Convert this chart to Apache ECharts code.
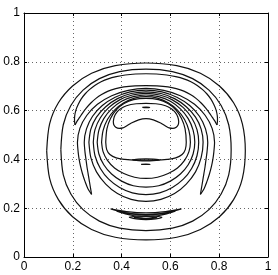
<!DOCTYPE html>
<html><head><meta charset="utf-8">
<script src="https://cdn.jsdelivr.net/npm/echarts@6/dist/echarts.min.js"></script>
<style>html,body{margin:0;padding:0;background:#fff}#c{width:278px;height:275px}</style>
</head><body><div id="c"></div>
<script>
// tick values
const xTicks = [0, 0.2, 0.4, 0.6, 0.8, 1];
const yTicks = [0, 0.2, 0.4, 0.6, 0.8, 1];

// contour lines, [x, y] points
const ring1 = [[.093,.435],[.105,.546],[.141,.632],[.199,.701],[.277,.753],[.374,.784],[.5,.795],[.626,.784],[.723,.753],[.801,.701],[.859,.632],[.895,.546],[.907,.435],[.895,.322],[.859,.235],[.801,.165],[.723,.113],[.626,.081],[.5,.07],[.374,.081],[.277,.113],[.199,.165],[.141,.235],[.105,.322],[.093,.435]];
const ring2 = [[.151,.44],[.161,.542],[.192,.621],[.242,.684],[.309,.731],[.392,.76],[.5,.77],[.608,.76],[.691,.731],[.758,.684],[.808,.621],[.839,.542],[.849,.44],[.839,.337],[.808,.258],[.758,.194],[.691,.147],[.608,.118],[.5,.108],[.392,.118],[.309,.147],[.242,.194],[.192,.258],[.161,.337],[.151,.44]];
const crescentBOuter = [[.209,.541],[.207,.56],[.208,.58],[.213,.603],[.222,.625],[.234,.647],[.25,.668],[.268,.686],[.29,.703],[.316,.718],[.345,.73],[.378,.739],[.415,.746],[.457,.75],[.5,.751],[.543,.75],[.585,.746],[.622,.739],[.655,.73],[.684,.718],[.71,.703],[.732,.686],[.75,.668],[.766,.647],[.778,.625],[.787,.603],[.792,.58],[.793,.56],[.791,.541]];
const crescentBInner = [[.209,.541],[.217,.556],[.228,.572],[.24,.59],[.255,.61],[.274,.631],[.295,.65],[.318,.666],[.345,.68],[.376,.69],[.41,.697],[.455,.701],[.5,.702],[.545,.701],[.59,.697],[.624,.69],[.655,.68],[.682,.666],[.705,.65],[.726,.631],[.745,.61],[.76,.59],[.772,.572],[.783,.556],[.791,.541]];
const crescentAOuter = [[.277,.257],[.262,.28],[.25,.31],[.24,.34],[.232,.37],[.226,.4],[.222,.43],[.219,.47],[.229,.527],[.257,.58],[.301,.626],[.3595,.661],[.427,.683],[.5,.691],[.573,.683],[.6405,.661],[.699,.626],[.743,.58],[.771,.527],[.781,.47],[.778,.43],[.774,.4],[.768,.37],[.76,.34],[.75,.31],[.738,.28],[.723,.257]];
const crescentAInner = [[.277,.257],[.273,.28],[.268,.31],[.263,.34],[.258,.37],[.254,.4],[.25,.43],[.247,.47],[.256,.525],[.281,.577],[.321,.621],[.3735,.655],[.4345,.677],[.5,.684],[.5655,.677],[.6265,.655],[.679,.621],[.719,.577],[.744,.525],[.753,.47],[.75,.43],[.746,.4],[.742,.37],[.737,.34],[.732,.31],[.727,.28],[.723,.257]];
const ring3 = [[.266,.47],[.274,.524],[.297,.5735],[.335,.616],[.383,.649],[.439,.67],[.5,.677],[.561,.67],[.617,.649],[.665,.616],[.703,.5735],[.726,.524],[.734,.47],[.726,.407],[.703,.349],[.665,.299],[.617,.26],[.561,.236],[.5,.228],[.439,.236],[.383,.26],[.335,.299],[.297,.349],[.274,.407],[.266,.47]];
const ring4 = [[.284,.47],[.291,.522],[.313,.5705],[.347,.612],[.392,.644],[.444,.664],[.5,.671],[.556,.664],[.608,.644],[.653,.612],[.687,.5705],[.709,.522],[.716,.47],[.709,.415],[.687,.363],[.653,.319],[.608,.285],[.556,.263],[.5,.256],[.444,.263],[.392,.285],[.347,.319],[.313,.363],[.291,.415],[.284,.47]];
const ring5 = [[.3,.47],[.307,.52],[.327,.567],[.359,.607],[.4,.638],[.448,.657],[.5,.664],[.552,.657],[.6,.638],[.641,.607],[.673,.567],[.693,.52],[.7,.47],[.693,.422],[.673,.378],[.641,.34],[.6,.311],[.552,.292],[.5,.286],[.448,.292],[.4,.311],[.359,.34],[.327,.378],[.307,.422],[.3,.47]];
const ring6 = [[.318,.47],[.324,.518],[.342,.5635],[.371,.602],[.409,.632],[.453,.651],[.5,.657],[.547,.651],[.591,.632],[.629,.602],[.658,.5635],[.676,.518],[.682,.47],[.676,.432],[.658,.396],[.629,.365],[.591,.342],[.547,.327],[.5,.322],[.453,.327],[.409,.342],[.371,.365],[.342,.396],[.324,.432],[.318,.47]];
const oval = [[.335,.47],[.34,.526],[.3545,.568],[.378,.603],[.41,.629],[.449,.645],[.5,.65],[.551,.645],[.59,.629],[.622,.603],[.6455,.568],[.66,.526],[.665,.47],[.661,.44],[.648,.42],[.622,.406],[.587,.4],[.546,.397],[.5,.397],[.454,.397],[.413,.4],[.378,.406],[.352,.42],[.339,.44],[.335,.47]];
const bean = [[.366,.555],[.368,.542],[.376,.532],[.39,.527],[.405,.529],[.42,.537],[.44,.549],[.47,.562],[.5,.567],[.53,.562],[.56,.549],[.58,.537],[.595,.529],[.61,.527],[.624,.532],[.632,.542],[.634,.555],[.63,.575],[.62,.593],[.604,.608],[.58,.62],[.54,.628],[.5,.63],[.46,.628],[.42,.62],[.396,.608],[.38,.593],[.37,.575],[.366,.555]];
const dashTop = [[.485,.613],[.5,.614],[.515,.613],[.5,.612],[.485,.613]];
const blobMid = [[.445,.398],[.47,.401],[.5,.402],[.53,.401],[.555,.398],[.53,.395],[.5,.394],[.47,.395],[.445,.398]];
const dashMid = [[.48,.38],[.5,.381],[.517,.38],[.5,.379],[.48,.38]];
const lens1 = [[.355,.197],[.42,.186],[.5,.181],[.58,.186],[.645,.197],[.58,.18],[.5,.174],[.42,.18],[.355,.197]];
const lens2 = [[.38,.188],[.44,.177],[.5,.173],[.56,.177],[.62,.188],[.56,.171],[.5,.167],[.44,.171],[.38,.188]];
const blobLow1 = [[.43,.163],[.46,.167],[.5,.168],[.54,.167],[.565,.163],[.54,.156],[.5,.153],[.46,.156],[.43,.163]];
const blobLow2 = [[.45,.161],[.5,.165],[.545,.161],[.5,.157],[.45,.161]];

const contours = [ring1, ring2, crescentBOuter, crescentBInner, crescentAOuter, crescentAInner,
  ring3, ring4, ring5, ring6, oval, bean, dashTop, blobMid, dashMid, lens1, lens2, blobLow1, blobLow2];

const chart = echarts.init(document.getElementById('c'), null, {renderer: 'canvas'});
const font = 'Liberation Sans, Arial, Helvetica, sans-serif';
const gridLine = {show: true, lineStyle: {color: '#666', width: 1, type: [1, 3]}};
function axis(pos, showLabel, ticks) {
  return {
    type: 'value', position: pos, min: ticks[0], max: ticks[ticks.length - 1], interval: 0.2,
    axisLine: {show: true, onZero: false, lineStyle: {color: '#000', width: 1}},
    axisTick: {show: true, inside: true, length: 3, lineStyle: {color: '#000'}},
    axisLabel: {show: showLabel, color: '#000', fontSize: 12, fontFamily: font, margin: 4},
    splitLine: showLabel ? gridLine : {show: false}
  };
}
chart.setOption({
  animation: false,
  grid: {left: 24, right: 10, top: 13, bottom: 18, containLabel: false},
  xAxis: [axis('bottom', true, xTicks), axis('top', false, xTicks)],
  yAxis: [axis('left', true, yTicks), axis('right', false, yTicks)],
  series: contours.map(d => ({
    type: 'line', data: d, xAxisIndex: 0, yAxisIndex: 0,
    showSymbol: false, smooth: 0.3, silent: true,
    lineStyle: {color: '#111', width: 1.2}
  }))
});
</script></body></html>
